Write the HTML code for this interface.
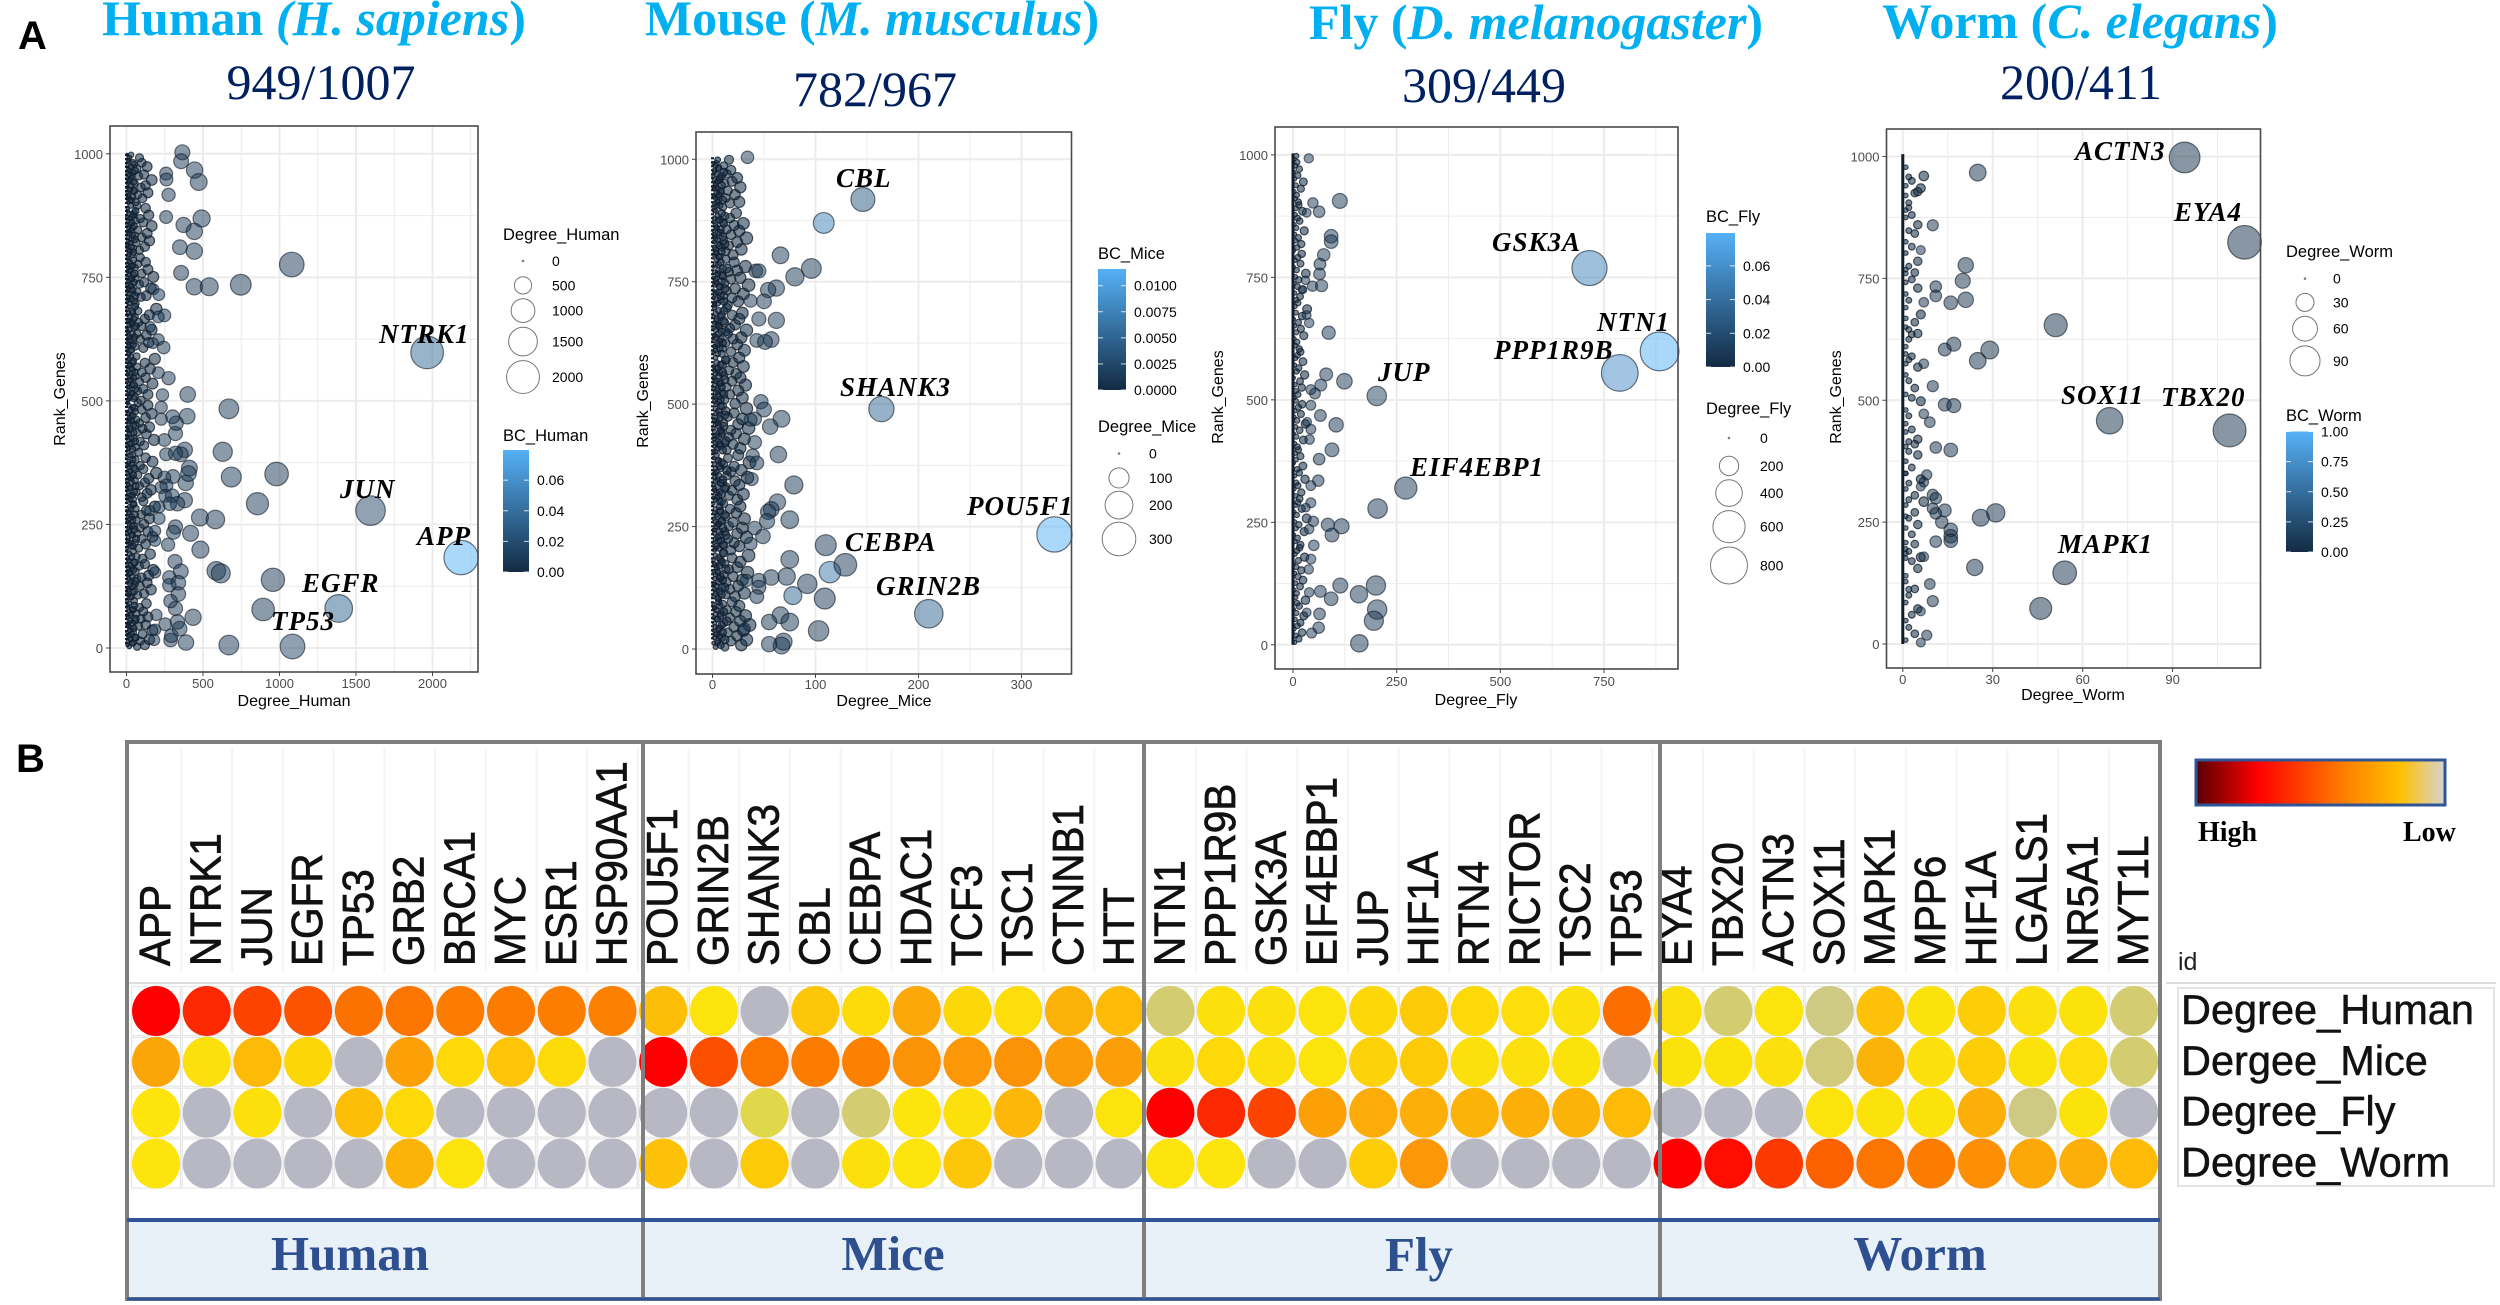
<!DOCTYPE html>
<html lang="en">
<head>
<meta charset="utf-8">
<title>Gene degree across species</title>
<style>
html,body{margin:0;padding:0;background:#fff;width:2500px;height:1305px;overflow:hidden}
svg{display:block}
.sans{font-family:"Liberation Sans",sans-serif}
.serif{font-family:"Liberation Serif",serif}
.title{font-family:"Liberation Serif",serif;font-weight:bold;font-size:50px;fill:#00b0f0;text-anchor:middle}
.sub{font-family:"Liberation Serif",serif;font-size:50px;fill:#002060;text-anchor:middle}
.gene{font-family:"Liberation Serif",serif;font-weight:bold;font-style:italic;font-size:27px;fill:#000;letter-spacing:1px}
.group{font-family:"Liberation Serif",serif;font-weight:bold;font-size:49px;fill:#2f5090;text-anchor:middle}
</style>
</head>
<body>
<svg id="fig" xmlns="http://www.w3.org/2000/svg" width="2500" height="1305" viewBox="0 0 2500 1305">
<defs>
<linearGradient id="bcGrad" x1="0" y1="1" x2="0" y2="0"><stop offset="0" stop-color="#132B43"/><stop offset="1" stop-color="#56B1F7"/></linearGradient>
<linearGradient id="heatGrad" x1="0" y1="0" x2="1" y2="0"><stop offset="0" stop-color="#5a0000"/><stop offset="0.25" stop-color="#ff0000"/><stop offset="0.6" stop-color="#ff8000"/><stop offset="0.82" stop-color="#ffc000"/><stop offset="1" stop-color="#d4d4d4"/></linearGradient>
</defs>
<rect width="2500" height="1305" fill="#fff"/>
<text x="18" y="49" class="sans" font-size="40" font-weight="bold">A</text>
<text x="16" y="772" class="sans" font-size="40" font-weight="bold">B</text>

<text x="314" y="35" class="title">Human <tspan font-style="italic">(H. sapiens</tspan>)</text>
<text x="321" y="99" class="sub">949/1007</text>
<text x="872" y="35" class="title">Mouse (<tspan font-style="italic">M. musculus</tspan>)</text>
<text x="875" y="106" class="sub">782/967</text>
<text x="1536" y="39" class="title">Fly (<tspan font-style="italic">D. melanogaster</tspan>)</text>
<text x="1484" y="102" class="sub">309/449</text>
<text x="2080" y="38" class="title">Worm (<tspan font-style="italic">C. elegans</tspan>)</text>
<text x="2081" y="99" class="sub">200/411</text>

<g id="scatters"></g>

<g>
<text class="gene" x="379" y="343">NTRK1</text>
<text class="gene" x="340" y="498">JUN</text>
<text class="gene" x="417" y="545">APP</text>
<text class="gene" x="302" y="592">EGFR</text>
<text class="gene" x="271" y="630">TP53</text>
<text class="gene" x="836" y="187">CBL</text>
<text class="gene" x="840" y="396">SHANK3</text>
<text class="gene" x="967" y="515">POU5F1</text>
<text class="gene" x="845" y="551">CEBPA</text>
<text class="gene" x="876" y="595">GRIN2B</text>
<text class="gene" x="1492" y="251">GSK3A</text>
<text class="gene" x="1597" y="331">NTN1</text>
<text class="gene" x="1494" y="359">PPP1R9B</text>
<text class="gene" x="1378" y="381">JUP</text>
<text class="gene" x="1410" y="476">EIF4EBP1</text>
<text class="gene" x="2075" y="160">ACTN3</text>
<text class="gene" x="2174" y="221">EYA4</text>
<text class="gene" x="2061" y="404">SOX11</text>
<text class="gene" x="2161" y="406">TBX20</text>
<text class="gene" x="2058" y="553">MAPK1</text>
</g>

<g id="heatmap"></g>

<g>
<rect x="127" y="1220" width="2033" height="79" fill="#e8f0f8" stroke="#2f5597" stroke-width="3"/>
<text class="group" x="350" y="1270">Human</text>
<text class="group" x="893" y="1270">Mice</text>
<text class="group" x="1419" y="1271">Fly</text>
<text class="group" x="1920" y="1270">Worm</text>
</g>
<g fill="none" stroke="#7f7f7f" stroke-width="4">
<rect x="127" y="742" width="2033" height="557"/>
<line x1="643" y1="742" x2="643" y2="1299"/>
<line x1="1144" y1="742" x2="1144" y2="1299"/>
<line x1="1660" y1="742" x2="1660" y2="1299"/>
</g>
<line x1="127" y1="1220" x2="2160" y2="1220" stroke="#2f5597" stroke-width="4"/>
<line x1="127" y1="1299" x2="2160" y2="1299" stroke="#2f5597" stroke-width="3"/>

<g>
<rect x="2196" y="760" width="249" height="45" fill="url(#heatGrad)" stroke="#2f5597" stroke-width="3"/>
<text x="2198" y="841" class="serif" font-size="28" font-weight="bold">High</text>
<text x="2403" y="841" class="serif" font-size="28" font-weight="bold">Low</text>
</g>
<text x="2178" y="970" class="sans" font-size="25" fill="#222">id</text>
<g id="rowLabels">
<rect x="2178" y="988" width="316" height="198" fill="#fff" stroke="#e4e4e4" stroke-width="2"/>
<line x1="2166" y1="983" x2="2496" y2="983" stroke="#ddd" stroke-width="2"/>
</g>
</svg>
<script>
/* ---------- HUMAN ---------- */
const sizeBreaksHuman=[0,500,1000,1500,2000];
const bcBreaksHuman=[0,0.02,0.04,0.06];
const xTicksHuman=[0,500,1000,1500,2000];
const yTicksRank=[0,250,500,750,1000];
const degreeHuman=[2187,1965,1387,1595,1085,365,357,445,472,259,261,275,259,491,373,443,349,443,1080,357,443,541,747,400,669,397,629,981,685,856,480,581,483,419,587,616,957,893,669,389,435,320,317,355,387,411,405,381,355,320,259,248,320,325,301,227,227,235,275,208,176,211,248,208,155,208,173,243,304,248,261,227,253,299,381,333,283,213,152,213,320,307,187,187,272,187,280,280,339,339,288,253,195,187,288,293,347,333,181];
const rankHuman=[183,598,80,278,3,1003,985,967,943,960,948,917,872,869,856,843,811,803,776,759,731,731,735,513,484,469,397,352,346,292,264,260,199,232,156,151,138,78,6,11,62,80,175,155,334,364,353,401,392,394,392,421,434,455,468,463,487,512,546,557,726,715,673,670,650,624,617,608,347,345,329,325,308,308,299,292,292,285,278,262,245,234,237,217,209,153,143,127,132,109,95,48,67,37,16,25,39,53,16];
const bcHuman=[0.078,0.036,0.032,0.016,0.014];
const cloudDegreeHuman=[
70,120,35,90,150,60,20,105,45,170,30,80,125,15,55,95,140,25,65,110,40,85,10,130,50,
25,75,115,40,160,10,90,55,135,30,70,100,145,20,60,175,35,85,120,50,15,105,65,155,45,
80,30,125,55,15,100,170,40,70,140,25,90,50,115,10,65,150,35,95,20,130,60,185,45,110,
45,100,20,135,65,160,30,85,10,120,55,145,35,75,195,25,110,50,90,15,170,60,125,40,80,
15,60,115,35,90,180,50,10,130,70,25,105,150,45,85,20,65,125,30,165,55,100,40,140,75,
95,20,55,140,35,75,110,15,50,170,85,30,125,60,10,100,40,155,70,25,120,45,185,65,15,
30,110,60,15,145,45,90,25,130,70,10,165,50,100,35,80,20,120,55,150,40,75,195,15,60,
50,15,95,130,40,70,10,160,35,85,115,25,60,175,45,100,20,140,55,30,75,125,15,90,40,
20,85,45,120,10,65,150,30,100,55,135,15,75,40,165,25,110,60,90,35,145,50,10,125,70,
60,35,105,15,75,140,45,25,95,125,55,10,165,30,80,115,40,20,70,135,50,100,15,85,30];
const denseDegreeHuman=[
18,6,42,12,28,55,9,34,4,22,48,14,7,38,25,60,11,3,30,16,44,8,52,20,5,
32,12,5,50,19,8,40,26,3,58,15,36,10,23,6,46,13,29,4,54,17,9,35,21,7,
6,44,16,27,8,62,12,33,4,20,52,10,37,18,5,41,24,9,56,14,3,30,22,48,11,
25,7,38,13,50,5,19,60,10,34,3,28,15,45,8,22,55,12,6,36,17,42,4,26,9,
40,14,6,24,56,11,32,3,18,47,9,27,5,60,15,35,7,21,43,12,4,30,53,16,8,
10,48,22,5,31,16,58,8,37,13,4,26,45,19,7,54,11,33,3,23,41,6,17,29,12,
35,6,19,44,10,27,4,52,14,38,8,21,3,60,16,31,9,47,24,5,13,39,7,56,18,
8,30,13,57,21,5,42,15,26,3,49,11,34,7,18,53,4,28,12,40,6,23,46,9,16,
46,17,7,33,4,24,12,55,9,39,20,5,28,14,50,6,36,10,22,3,44,15,59,8,27,
12,26,4,41,15,7,51,20,3,31,10,47,17,6,37,24,5,56,13,29,8,43,11,19,4];
const cloudRankHuman=[
3,6,10,14,17,21,25,28,32,36,40,44,47,51,55,59,63,66,70,74,78,82,86,90,95,
103,107,110,114,118,121,125,129,132,136,140,143,147,151,155,158,162,166,170,173,177,181,185,190,196,
202,206,210,213,217,221,225,228,232,236,240,243,247,251,255,259,262,266,270,274,278,282,286,291,297,
301,305,309,313,316,320,324,328,331,335,339,343,346,350,354,358,362,365,369,373,377,381,385,390,396,
403,406,410,414,418,421,425,429,433,436,440,444,447,451,455,459,462,466,470,474,478,482,486,491,496,
501,505,509,513,516,520,524,528,532,535,539,543,547,550,554,558,562,565,569,573,577,581,585,590,595,
603,607,610,614,618,622,625,629,633,636,640,644,648,651,655,659,662,666,670,674,678,682,686,691,697,
702,706,710,713,717,721,725,728,732,736,740,743,747,751,755,758,762,766,770,773,777,781,785,790,796,
801,805,809,812,816,820,824,827,831,835,839,842,846,850,854,857,861,865,869,872,876,880,884,890,895,
902,906,910,913,917,921,925,928,932,936,940,943,947,951,955,958,962,966,970,974,978,982,987,992,998];
/* ---------- MICE ---------- */
const sizeBreaksMice=[0,100,200,300];
const bcBreaksMice=[0,0.0025,0.005,0.0075,0.01];
const xTicksMice=[0,100,200,300];
const degreeMice=[332,108,114,164,210,146,78,34,66,96,80,42,45,62,54,50,37,45,62,43,57,51,47,50,67,56,41,37,41,64,39,43,79,38,63,57,54,75,53,41,49,110,129,75,72,57,92,109,66,75,55,103,69,67,55,31,45,45,43,37,33];
const rankMice=[234,870,157,490,72,918,109,1004,804,777,760,772,772,737,733,710,711,674,671,630,632,627,505,489,470,454,470,468,422,397,395,380,335,347,300,285,280,264,261,247,230,212,172,183,148,146,133,103,69,55,55,37,15,7,10,41,140,126,107,215,140];
const bcMice=[0.0115,0.0075,0.0065,0.005,0.005,0.004,0.005];
const cloudDegreeMice=[
12,28,5,18,33,9,24,3,15,30,7,21,36,11,27,4,17,32,8,23,14,2,26,10,19,
6,22,13,31,4,17,9,25,2,14,29,7,20,11,34,5,16,24,3,12,27,8,19,35,10,
18,3,26,10,21,6,15,33,8,24,12,2,29,16,5,20,9,31,13,4,23,7,17,27,11,
9,24,4,16,30,7,19,2,13,26,10,22,5,34,14,3,18,28,8,21,11,36,6,15,25,
3,14,27,8,20,12,5,31,16,2,23,9,18,35,6,25,11,4,29,15,7,21,13,33,10,
22,6,12,29,3,17,9,25,5,14,32,8,19,2,27,11,23,7,16,4,30,10,20,13,26,
5,18,31,10,3,24,13,7,20,28,2,15,9,33,17,6,22,12,4,26,8,19,29,11,14,
15,2,25,8,19,11,30,4,14,22,7,35,12,3,18,27,9,5,16,24,10,32,6,21,13,
7,20,3,13,28,9,16,5,24,11,33,2,18,8,26,14,4,21,30,10,6,17,12,23,3,
10,4,17,26,6,13,2,22,8,15,5,27,3,12,19,7,24,9,14,2,18,6,11,4,16];
const denseDegreeMice=[
3,8,1,5,12,2,7,4,10,1,6,3,9,2,14,5,1,8,3,11,4,2,7,1,6,
5,1,9,3,7,2,12,4,1,6,10,2,8,3,5,1,13,4,7,2,9,1,6,3,11,
2,6,4,11,1,8,3,5,13,2,7,1,10,4,6,3,9,1,5,12,2,8,3,7,1,
7,3,1,6,9,4,2,12,5,1,8,3,10,2,6,1,4,14,3,7,2,9,5,1,4,
1,10,5,2,7,3,13,1,6,4,9,2,8,1,11,3,5,2,7,1,12,4,6,3,8,
4,2,8,1,6,11,3,5,1,9,2,7,4,12,1,6,3,10,2,5,1,8,4,13,3,
9,1,3,7,2,5,10,1,8,4,2,6,13,3,1,7,5,2,11,4,1,9,3,6,2,
2,5,11,4,1,8,3,6,1,12,7,2,4,9,3,1,10,5,2,6,14,1,3,8,4,
6,1,4,9,3,2,7,12,1,5,3,10,2,6,1,8,4,3,11,1,7,2,5,9,2,
1,7,2,5,10,3,1,6,4,8,2,1,9,3,5,2,7,1,4,11,2,6,3,1,5];
const cloudRankMice=[
4,8,12,16,19,23,27,30,34,38,42,45,49,53,57,61,64,68,72,76,80,84,88,92,96,
103,107,111,114,118,122,126,129,133,137,141,144,148,152,156,159,163,167,171,174,178,182,186,191,196,
202,206,210,213,217,221,225,228,232,236,240,243,247,251,255,259,262,266,270,274,278,282,286,291,297,
301,305,309,313,316,320,324,328,331,335,339,343,346,350,354,358,362,365,369,373,377,381,385,390,396,
403,406,410,414,418,421,425,429,433,436,440,444,447,451,455,459,462,466,470,474,478,482,486,491,496,
501,505,509,513,516,520,524,528,532,535,539,543,547,550,554,558,562,565,569,573,577,581,585,590,595,
603,607,610,614,618,622,625,629,633,636,640,644,648,651,655,659,662,666,670,674,678,682,686,691,697,
702,706,710,713,717,721,725,728,732,736,740,743,747,751,755,758,762,766,770,773,777,781,785,790,796,
801,805,809,812,816,820,824,827,831,835,839,842,846,850,854,857,861,865,869,872,876,880,884,890,895,
902,906,910,913,917,921,925,928,932,936,940,943,947,951,955,958,962,966,970,974,978,982,987,992,999];
/* ---------- FLY ---------- */
const sizeBreaksFly=[0,200,400,600,800];
const bcBreaksFly=[0,0.02,0.04,0.06];
const xTicksFly=[0,250,500,750];
const degreeFly=[884,788,715,202,38,113,48,33,63,92,92,74,65,64,30,47,69,21,33,39,86,124,80,67,53,43,43,66,104,43,34,94,40,63,61,43,272,204,43,31,49,84,117,94,39,50,43,38,114,200,159,92,66,39,203,195,64,62,160,45,33];
const rankFly=[599,555,769,508,993,906,902,882,884,834,823,796,777,757,744,732,733,725,673,657,637,538,552,530,513,521,489,468,449,440,455,398,419,379,335,325,320,278,290,280,252,245,242,224,236,203,175,154,121,121,103,94,109,107,72,49,63,35,3,24,66];
const bcFly=[0.08,0.058,0.052,0.012];
const cloudDegreeFly=[
4,14,7,22,3,11,18,5,26,8,2,15,10,30,6,
9,3,17,6,24,12,4,20,8,2,13,28,5,10,16,
18,5,11,2,27,7,14,4,33,9,3,21,6,12,16,
6,20,3,12,8,29,4,15,10,24,2,7,18,5,13,
11,4,25,8,2,16,6,30,10,3,19,5,13,22,7,
3,12,7,21,5,17,2,28,9,14,4,24,6,11,18,
15,6,10,3,26,8,19,4,13,2,22,7,34,5,12,
8,17,4,24,11,3,14,6,31,9,2,18,5,12,21,
2,10,20,6,13,4,27,8,3,16,11,5,23,7,14,
13,5,9,3,19,7,25,4,12,2,15,6,10,3,8];
const cloudRankFly=[
5,12,19,25,32,39,45,52,59,65,72,79,85,91,97,
105,112,119,126,132,139,146,152,159,165,172,179,185,192,198,
204,211,218,225,231,238,245,251,258,265,271,278,285,291,298,
304,311,318,325,331,338,345,351,358,365,371,378,385,391,398,
404,411,418,425,431,438,445,451,458,465,471,478,485,491,498,
504,511,518,525,531,538,545,551,558,565,571,578,585,591,598,
604,611,618,625,631,638,645,651,658,665,671,678,685,691,698,
704,711,718,725,731,738,745,751,758,765,771,778,785,791,798,
804,811,818,825,831,838,845,851,858,865,871,878,885,891,898,
904,911,918,925,931,938,945,951,958,965,971,978,985,991,998];
/* ---------- WORM ---------- */
const sizeBreaksWorm=[0,30,60,90];
const bcBreaksWorm=[0,0.25,0.5,0.75,1];
const xTicksWorm=[0,30,60,90];
const degreeWorm=[94,25,114,10,6,21,20,11,21,11,16,7,51,17,14,29,25,7,10,14,17,69,109,7,9,11,16,8,7,6,10,11,14,10,11,31,26,13,16,16,16,11,7,24,54,9,10,46,6,8,6];
const rankWorm=[998,967,824,859,808,777,745,733,706,714,700,701,654,615,604,603,581,575,529,491,489,458,438,472,455,403,398,347,332,323,306,299,274,278,268,269,259,250,234,221,212,210,179,157,146,123,88,73,67,18,3];
const bcWorm=[];
const cloudDegreeWorm=[
1,4,2,1,3,5,1,2,4,1,
2,1,5,3,1,2,1,4,6,1,
1,3,1,5,2,1,4,1,7,2,
4,1,2,6,1,3,1,5,2,1,
1,2,5,1,3,1,4,2,1,6,
3,1,4,2,1,5,1,2,3,1,
1,2,3,1,5,2,1,4,1,6,
2,1,5,1,3,4,1,2,5,1,
1,3,1,4,2,5,1,3,2,1,
2,1,4,6,1,3,7,5,2,1];
const cloudRankWorm=[
8,21,34,48,60,72,85,100,113,128,
112,140,155,170,186,190,195,205,178,176,
208,225,238,245,258,262,270,285,292,296,
305,318,330,338,350,362,375,388,395,350,
405,415,420,435,440,452,410,468,480,498,
505,512,525,540,552,568,575,583,590,595,
610,625,635,650,637,645,668,660,690,676,
705,718,730,742,748,762,768,775,785,760,
802,815,825,842,848,860,875,880,895,890,
905,920,925,935,940,950,960,928,958,978];
/* ---------- HEATMAP ---------- */
const geneColumns=["APP","NTRK1","JUN","EGFR","TP53","GRB2","BRCA1","MYC","ESR1","HSP90AA1","POU5F1","GRIN2B","SHANK3","CBL","CEBPA","HDAC1","TCF3","TSC1","CTNNB1","HTT","NTN1","PPP1R9B","GSK3A","EIF4EBP1","JUP","HIF1A","RTN4","RICTOR","TSC2","TP53","EYA4","TBX20","ACTN3","SOX11","MAPK1","MPP6","HIF1A","LGALS1","NR5A1","MYT1L"];
const heatRowLabels=["Degree_Human","Dergee_Mice","Degree_Fly","Degree_Worm"];
const heatDegreeHuman=[100,94,88,84,75,74,72,72,71,70,38,15,null,34,22,50,25,20,45,40,5,18,18,15,25,32,24,20,18,76,18,5,15,3,36,16,30,18,16,5];
const heatDergeeMice=[52,18,40,26,null,55,24,35,22,null,100,85,74,72,70,62,60,62,58,56,18,24,18,15,28,32,18,18,16,null,16,16,18,4,44,18,30,16,20,5];
const heatDegreeFly=[14,null,18,null,38,24,null,null,null,null,null,null,7,null,5,14,18,42,null,15,100,94,88,55,48,46,44,46,44,40,null,null,null,15,16,16,46,3,16,null];
const heatDegreeWorm=[14,null,null,null,null,44,14,null,null,null,36,null,32,null,18,15,34,null,null,null,14,14,null,null,30,60,null,null,null,null,100,98,90,80,74,72,64,50,46,40];

const NS='http://www.w3.org/2000/svg';
function mk(tag,parent,attrs){
  const el=document.createElementNS(NS,tag);
  for(const k in attrs){el.setAttribute(k,attrs[k]);}
  parent.appendChild(el);
  return el;
}
function mix(a,b,t){
  const p=[];
  for(let i=0;i<3;i++){p.push(Math.round(a[i]+(b[i]-a[i])*t));}
  return 'rgb('+p.join(',')+')';
}
const SANS='"Liberation Sans",sans-serif';

function drawScatter(c){
  const root=document.getElementById('scatters');
  const g=mk('g',root,{});
  
  
  const xS=d=>c.x0+d*c.xUnit;
  const yS=r=>c.y0-r*c.yUnit;
  const bg=mk('rect',g,{x:c.left,y:c.top,width:c.right-c.left,height:c.bottom-c.top,fill:'#fff'});
  
  
  const step=c.xTicks[1]-c.xTicks[0];
  for(let v=step/2;xS(v)<c.right;v+=step/2){
    const major=c.xTicks.includes(v);
    const gl=mk('line',g,{x1:xS(v),x2:xS(v),y1:c.top,y2:c.bottom,stroke:'#ececec','stroke-width':major?2:1});
    
    
  }
  if(xS(0)>c.left){
    const gl0=mk('line',g,{x1:xS(0),x2:xS(0),y1:c.top,y2:c.bottom,stroke:'#ececec','stroke-width':2});
    
    
  }
  for(let v=-125;v<=1125;v+=125){
    if(yS(v)<c.top||yS(v)>c.bottom)continue;
    const major=yTicksRank.includes(v);
    const gl=mk('line',g,{x1:c.left,x2:c.right,y1:yS(v),y2:yS(v),stroke:'#ececec','stroke-width':major?2:1});
    
    
  }
  const base=[19,43,67],top=[86,177,247];
  const stack=mk('line',g,{x1:xS(0),x2:xS(0),y1:yS(c.stack[0]),y2:yS(c.stack[1]),stroke:'#101c2a','stroke-width':c.stackWidth,'stroke-dasharray':c.stackDash});
  
  
  const dia=d=>1.6+c.k*Math.sqrt(d);
  function dots(ds,rs,bcs,def,name,fo,so){
    for(let i=0;i<ds.length;i++){
      const bc=(bcs[i]===undefined)?def:bcs[i];
      const t=Math.min(1,bc/c.bcMax);
      const dot=mk('circle',g,{cx:xS(ds[i]),cy:yS(rs[i]),r:dia(ds[i])/2,fill:mix(base,top,t),'fill-opacity':fo,stroke:'#101c2a','stroke-opacity':so,'stroke-width':1.2});
      
      
    }
  }
  dots(c.cloudD,c.cloudR,[],0,c.key+'-gene-point',0.55,0.75);
  if(c.denseD){dots(c.denseD,c.cloudR,[],0,c.key+'-gene-point',0.6,0.8);}
  dots(c.deg,c.rank,c.bc,c.bcDefault,c.key+'-gene-point',0.5,0.6);
  const frame=mk('rect',g,{x:c.left,y:c.top,width:c.right-c.left,height:c.bottom-c.top,fill:'none',stroke:'#4a4a4a','stroke-width':1.6});
  
  
  c.xTicks.forEach(v=>{
    const tk=mk('line',g,{x1:xS(v),x2:xS(v),y1:c.bottom,y2:c.bottom+4,stroke:'#444','stroke-width':1});
    
    
    const tx=mk('text',g,{x:xS(v),y:c.xLabelY,'text-anchor':'middle','font-size':13,'font-family':SANS,fill:'#4d4d4d'});
    tx.textContent=v;
    
    
  });
  yTicksRank.forEach(v=>{
    const tk=mk('line',g,{x1:c.left-4,x2:c.left,y1:yS(v),y2:yS(v),stroke:'#444','stroke-width':1});
    
    
    const tx=mk('text',g,{x:c.left-7,y:yS(v)+5,'text-anchor':'end','font-size':13,'font-family':SANS,fill:'#4d4d4d'});
    tx.textContent=v;
    
    
  });
  const xt=mk('text',g,{x:c.xTitleX,y:c.xTitleY,'text-anchor':'middle','font-size':16,'font-family':SANS,fill:'#000'});
  xt.textContent=c.xTitle;
  
  
  const yt=mk('text',g,{transform:'translate('+c.yTitleX+','+c.yTitleY+') rotate(-90)','text-anchor':'middle','font-size':16,'font-family':SANS,fill:'#000'});
  yt.textContent='Rank_Genes';
  
  

  /* size legend */
  const st=mk('text',g,{x:c.sizeX,y:c.sizeTitleY,'font-size':16.5,'font-family':SANS,fill:'#000'});
  st.textContent=c.xTitle;
  
  
  let ly=c.sizeStartY;
  c.sizeBreaks.forEach((v,i)=>{
    if(i===1){ly+=(dia(c.sizeBreaks[0])+dia(v))/2+c.sizeFirstGap;}
    if(i>1){ly+=(dia(c.sizeBreaks[i-1])+dia(v))/2+c.sizeGap;}
    const lc=mk('circle',g,{cx:c.sizeCx,cy:ly,r:dia(v)/2,fill:'#fff',stroke:'#777','stroke-width':1});
    
    
    const lt=mk('text',g,{x:c.sizeLabelX,y:ly+5,'font-size':14,'font-family':SANS,fill:'#000'});
    lt.textContent=v;
    
    
  });
  /* colour legend */
  const bt=mk('text',g,{x:c.barX,y:c.barTitleY,'font-size':16.5,'font-family':SANS,fill:'#000'});
  bt.textContent=c.barTitle;
  
  
  const bar=mk('rect',g,{x:c.barX,y:c.barTop,width:c.barW,height:c.barBottom-c.barTop,fill:'url(#bcGrad)'});
  
  
  const barY=v=>c.barBottom-v/c.barMax*(c.barBottom-c.barTop);
  c.bcBreaks.forEach(v=>{
    const a=mk('line',g,{x1:c.barX,x2:c.barX+5,y1:barY(v),y2:barY(v),stroke:'#fff','stroke-width':1,'stroke-opacity':0.8});
    
    
    const b=mk('line',g,{x1:c.barX+c.barW-5,x2:c.barX+c.barW,y1:barY(v),y2:barY(v),stroke:'#fff','stroke-width':1,'stroke-opacity':0.8});
    
    
    const t=mk('text',g,{x:c.barX+c.barW+8,y:barY(v)+5,'font-size':14,'font-family':SANS,fill:'#000'});
    t.textContent=v.toFixed(c.barDigits);
    
    
  });
}

drawScatter({key:'human',left:110,right:478,top:126,bottom:672,x0:126.5,xUnit:0.153,y0:648,yUnit:0.4942,
  deg:degreeHuman,rank:rankHuman,bc:bcHuman,bcDefault:0.007,bcMax:0.078,cloudD:cloudDegreeHuman,cloudR:cloudRankHuman,denseD:denseDegreeHuman,k:0.70,
  stack:[8,1002],stackWidth:3,stackDash:'2 2',xTicks:xTicksHuman,xLabelY:688,xTitle:'Degree_Human',xTitleX:294,xTitleY:706,yTitleX:65,yTitleY:399,
  sizeBreaks:sizeBreaksHuman,sizeX:503,sizeTitleY:240,sizeCx:523,sizeLabelX:552,sizeStartY:261,sizeFirstGap:15,sizeGap:4.7,
  barTitle:'BC_Human',barX:503,barTitleY:441,barTop:450,barBottom:572,barW:26,barMax:0.0797,bcBreaks:bcBreaksHuman,barDigits:2});
drawScatter({key:'mouse',left:696,right:1071.5,top:132,bottom:674,x0:712.5,xUnit:1.03,y0:649,yUnit:0.4897,
  deg:degreeMice,rank:rankMice,bc:bcMice,bcDefault:0.0011,bcMax:0.0115,cloudD:cloudDegreeMice,cloudR:cloudRankMice,denseD:denseDegreeMice,k:1.85,
  stack:[20,1005],stackWidth:3,stackDash:'2 2',xTicks:xTicksMice,xLabelY:689,xTitle:'Degree_Mice',xTitleX:884,xTitleY:706,yTitleX:648,yTitleY:401,
  sizeBreaks:sizeBreaksMice,sizeX:1098,sizeTitleY:432,sizeCx:1119,sizeLabelX:1149,sizeStartY:453.5,sizeFirstGap:13.6,sizeGap:3.2,
  barTitle:'BC_Mice',barX:1098,barTitleY:259,barTop:269,barBottom:390,barW:28,barMax:0.0116,bcBreaks:bcBreaksMice,barDigits:4});
drawScatter({key:'fly',left:1275,right:1678,top:127,bottom:669,x0:1293,xUnit:0.4147,y0:644.8,yUnit:0.4899,
  deg:degreeFly,rank:rankFly,bc:bcFly,bcDefault:0.008,bcMax:0.08,cloudD:cloudDegreeFly,cloudR:cloudRankFly,k:1.25,
  stack:[0,1003],stackWidth:3,stackDash:'none',xTicks:xTicksFly,xLabelY:686,xTitle:'Degree_Fly',xTitleX:1476,xTitleY:705,yTitleX:1223,yTitleY:397,
  sizeBreaks:sizeBreaksFly,sizeX:1706,sizeTitleY:414,sizeCx:1729,sizeLabelX:1760,sizeStartY:438,sizeFirstGap:17.5,sizeGap:4.2,
  barTitle:'BC_Fly',barX:1706,barTitleY:222,barTop:233,barBottom:367,barW:29,barMax:0.0795,bcBreaks:bcBreaksFly,barDigits:2});
drawScatter({key:'worm',left:1886.5,right:2260.5,top:129,bottom:668,x0:1902.8,xUnit:2.998,y0:644,yUnit:0.4875,
  deg:degreeWorm,rank:rankWorm,bc:bcWorm,bcDefault:0.02,bcMax:1,cloudD:cloudDegreeWorm,cloudR:cloudRankWorm,k:3.0,
  stack:[0,1005],stackWidth:3,stackDash:'none',xTicks:xTicksWorm,xLabelY:684,xTitle:'Degree_Worm',xTitleX:2073,xTitleY:700,yTitleX:1841,yTitleY:397,
  sizeBreaks:sizeBreaksWorm,sizeX:2286,sizeTitleY:257,sizeCx:2305,sizeLabelX:2333,sizeStartY:278.6,sizeFirstGap:14,sizeGap:4.8,
  barTitle:'BC_Worm',barX:2286,barTitleY:421,barTop:431.5,barBottom:552,barW:27,barMax:1,bcBreaks:bcBreaksWorm,barDigits:2});

/* heatmap */
const heatRows=[heatDegreeHuman,heatDergeeMice,heatDegreeFly,heatDegreeWorm];
const colX=i=>156+i*50.72;
const rowY=j=>1011+j*50.85;
const heatStops=[[0,[198,196,160]],[5,[212,204,112]],[8,[232,220,56]],[14,[252,228,12]],[25,[253,216,8]],[35,[253,196,8]],[50,[252,168,8]],[60,[252,152,8]],[72,[252,124,0]],[85,[252,80,0]],[94,[252,40,0]],[100,[255,0,0]]];
function heatColor(v){
  if(v===null)return '#b8b8c4';
  for(let i=1;i<heatStops.length;i++){
    if(v<=heatStops[i][0]){
      const a=heatStops[i-1],b=heatStops[i];
      return mix(a[1],b[1],(v-a[0])/(b[0]-a[0]));
    }
  }
  return '#ff0000';
}
const hm=document.getElementById('heatmap');
const topRule=mk('line',hm,{x1:129,x2:2158,y1:983,y2:983,stroke:'#ddd','stroke-width':2});


geneColumns.forEach((gene,i)=>{
  const sep=mk('line',hm,{x1:colX(i)+25.4,x2:colX(i)+25.4,y1:748,y2:972,stroke:'#f4f4f4','stroke-width':2});
  
  
  const t=mk('text',hm,{transform:'translate('+(colX(i)+14)+',966) rotate(-90) scale(1,1.08)','font-size':40.5,'font-family':SANS,fill:'#111',stroke:'#111','stroke-width':0.7});
  t.textContent=gene;
  
  
  heatRows.forEach((row,j)=>{
    const cell=mk('rect',hm,{x:colX(i)-24.5,y:rowY(j)-24.5,width:49,height:49,fill:'#fff',stroke:'#e6e6e6','stroke-width':1.2});
    
    
    const e=mk('ellipse',hm,{cx:colX(i),cy:rowY(j),rx:24,ry:25,fill:heatColor(row[i])});
    
    
  });
});
const rl=document.getElementById('rowLabels');
heatRowLabels.forEach((lab,j)=>{
  const t=mk('text',rl,{x:2181,y:rowY(j)+13,'font-size':41.5,'font-family':SANS,fill:'#111',stroke:'#111','stroke-width':0.5});
  t.textContent=lab;
  
  
});
</script>
</body>
</html>
